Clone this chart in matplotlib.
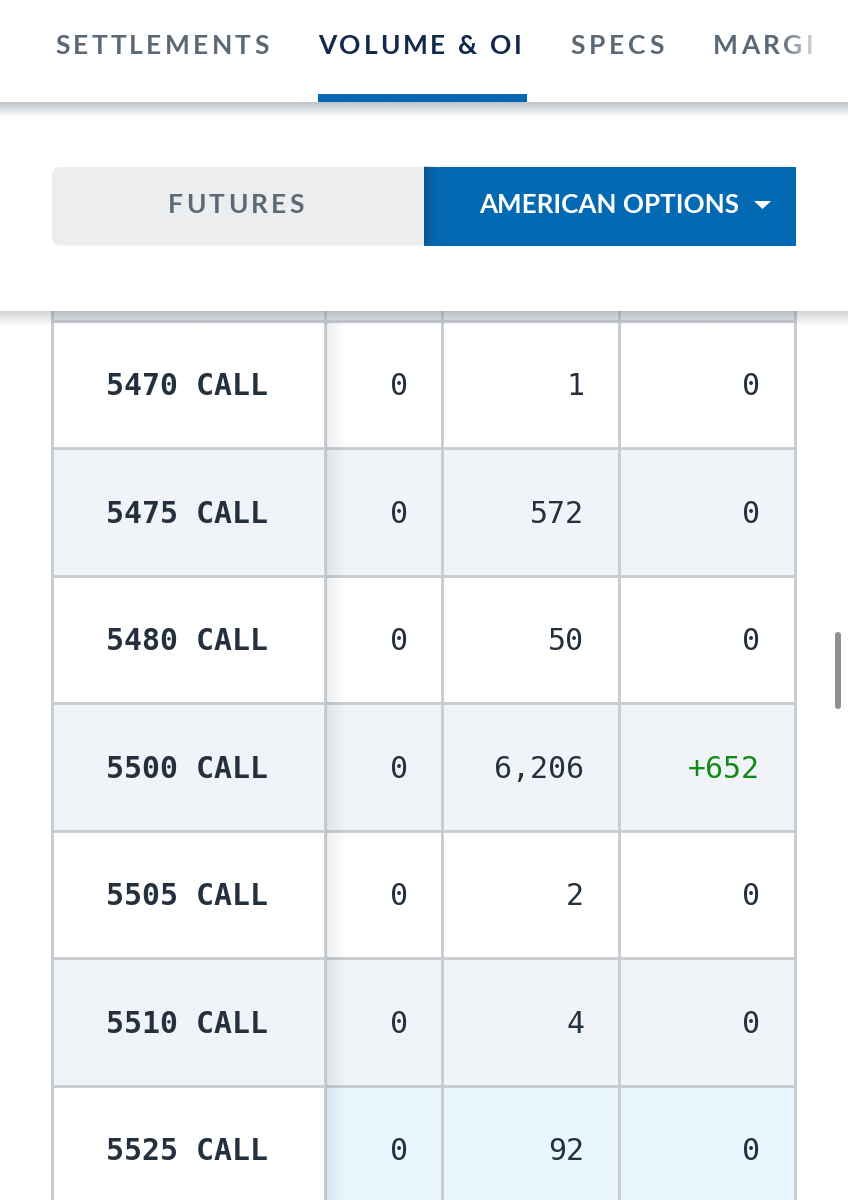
import matplotlib
matplotlib.use('Agg')
import matplotlib.pyplot as plt
from matplotlib.patches import Rectangle, FancyBboxPatch, Polygon
import numpy as np

W, H = 848, 1200

tabs = ['SETTLEMENTS', 'VOLUME & OI', 'SPECS', 'MARGI']
strikes = ['5470 CALL', '5475 CALL', '5480 CALL', '5500 CALL', '5505 CALL', '5510 CALL', '5525 CALL']
col_a = ['0', '0', '0', '0', '0', '0', '0']
col_b = ['1', '572', '50', '6,206', '2', '4', '92']
col_c = ['0', '0', '0', '+652', '0', '0', '0']

LINE = '#c6cbd0'
INK = '#24303d'
BLUE = '#0469b3'
MONO = 'DejaVu Sans Mono'

fig = plt.figure(figsize=(8.48, 12), dpi=100)
ax = fig.add_axes([0, 0, 1, 1])
ax.set_xlim(0, W)
ax.set_ylim(H, 0)
ax.axis('off')


def shade(x0, x1, y0, y1, horizontal, a0, a1=0, color=(0.1, 0.15, 0.2), z=3):
    # soft css-like shadow
    n = 32
    ramp = np.linspace(a0, a1, n)
    img = np.zeros((1, n, 4)) if horizontal else np.zeros((n, 1, 4))
    img[..., 0], img[..., 1], img[..., 2] = color
    img[..., 3] = ramp.reshape(img.shape[:2])
    ax.imshow(img, extent=(x0, x1, y1, y0), aspect='auto', zorder=z, interpolation='bilinear')


def spaced(x, y, s, gap, **kw):
    # letter spacing by hand, matplotlib has none
    rend = fig.canvas.get_renderer()
    for ch in s:
        t = ax.text(x, y, ch, ha='left', va='center', **kw)
        w = t.get_window_extent(rend).width if ch != ' ' else kw['fontsize'] * 0.36
        x += w + gap
    return x


# table rows
row_tops = [320.5 + 127.5 * i for i in range(len(strikes) + 1)]
xs = [51.5, 325, 442, 619, 795]
for i, name in enumerate(strikes):
    y0, y1 = row_tops[i], row_tops[i + 1]
    bg = '#f0f4f8' if i % 2 else 'white'
    ax.add_patch(Rectangle((52, y0), 743, y1 - y0, fc=bg, ec='none', zorder=1))
    if i == len(strikes) - 1:
        ax.add_patch(Rectangle((325, y0), 470, y1 - y0, fc='#e9f6fd', ec='none', zorder=1))
    cy = (y0 + y1) / 2 + 2.5
    ax.text(106, cy, name, ha='left', va='center', family=MONO, fontsize=21.5,
            fontweight='bold', color=INK, zorder=5)
    ax.text(408, cy, col_a[i], ha='right', va='center', family=MONO, fontsize=21.5, color=INK, zorder=5)
    ax.text(584, cy, col_b[i], ha='right', va='center', family=MONO, fontsize=21.5, color=INK, zorder=5)
    ax.text(760, cy, col_c[i], ha='right', va='center', family=MONO, fontsize=21.5, zorder=5,
            color='#0f8a12' if col_c[i].startswith('+') else INK)

for y in row_tops:
    ax.plot([52, 795], [y, y], color=LINE, lw=2, zorder=2, solid_capstyle='butt')
for x in xs:
    ax.plot([x, x], [300, H], color=LINE, lw=2, zorder=2, solid_capstyle='butt')
shade(326, 346, 322, H, True, 0.08, z=2.5)

# top white bars with shadows
ax.add_patch(Rectangle((52, 300), 743, 21, fc='#e4e7ea', ec='none', zorder=1.5))
ax.add_patch(Rectangle((0, 0), W, 102, fc='white', ec='none', zorder=6))
ax.add_patch(Rectangle((0, 102), W, 209, fc='white', ec='none', zorder=4))
shade(0, W, 102, 117, False, 0.28, z=5)
shade(0, W, 311, 326, False, 0.20, z=5)

# tabs
tab_x = [55, 318, 570, 713]
tab_gap = [3.3, 2.9, 3.9, 3.3]
tab_col = ['#5b6875', '#12294b', '#5b6875', '#5b6875']
for label, x, gap, col in zip(tabs, tab_x, tab_gap, tab_col):
    spaced(x, 46.5, label, gap, family='Lato', fontsize=19, fontweight='bold', color=col, zorder=7)
ax.add_patch(Rectangle((318, 94), 209, 8, fc=BLUE, ec='none', zorder=7))
# fade on the cut-off tab
img = np.ones((1, 32, 4))
img[..., 3] = np.linspace(0, 1, 32)
ax.imshow(img, extent=(780, 825, 70, 25), aspect='auto', zorder=8)
ax.add_patch(Rectangle((825, 25), 23, 45, fc='white', ec='none', zorder=8))

# futures / options switch
ax.add_patch(FancyBboxPatch((52, 167), 380, 78.5, boxstyle='round,pad=0,rounding_size=9',
                            fc='#ebedef', ec='none', zorder=7))
ax.add_patch(Rectangle((424, 167), 372, 78.5, fc=BLUE, ec='none', zorder=8))
shade(424, 436, 167, 245.5, True, 0.28, z=8.5)
spaced(168, 205, 'FUTURES', 3.3, family='Lato', fontsize=19, fontweight='bold', color='#5b6875', zorder=9)
ax.text(479, 205, 'AMERICAN OPTIONS', ha='left', va='center', family='Lato', fontsize=18.7,
        fontweight='bold', color='white', zorder=9)
ax.add_patch(Polygon([[754, 201], [771, 201], [762.5, 209]], closed=True, fc='white', ec='none', zorder=9))

# scrollbar
ax.add_patch(FancyBboxPatch((835, 632), 6, 77, boxstyle='round,pad=0,rounding_size=3',
                            fc='#8c9196', ec='none', zorder=9))

ax.set_xlim(0, W)
ax.set_ylim(H, 0)
fig.savefig('out.png', dpi=100)
